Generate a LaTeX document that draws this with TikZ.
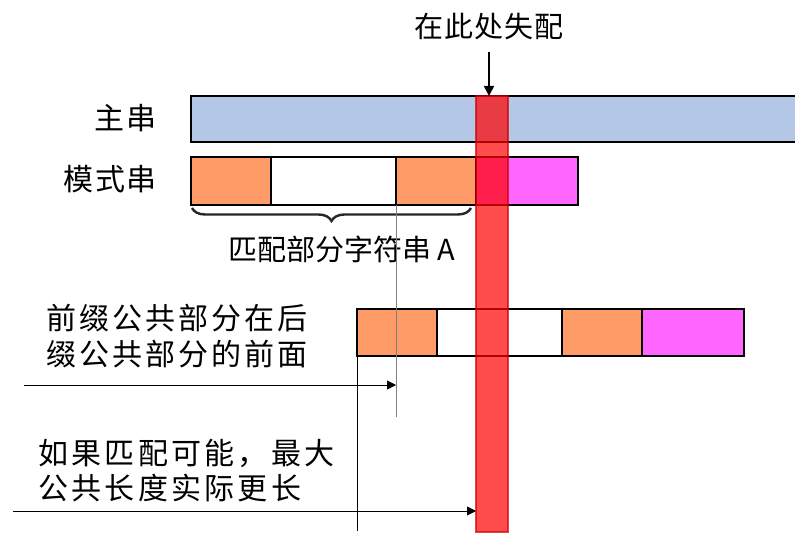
\documentclass[tikz,border=0pt]{standalone}
\usepackage{fontspec}
\setmainfont{Noto Sans CJK SC}
\usetikzlibrary{positioning,arrows.meta,decorations.pathreplacing}
\definecolor{mainblue}{RGB}{180,199,231}
\definecolor{prefixorange}{RGB}{255,155,102}
\definecolor{tailpink}{RGB}{255,102,255}
\definecolor{missred}{RGB}{255,0,0}

\begin{document}
\begin{tikzpicture}[x=1pt,y=-1pt,
    seg/.style={draw,line width=1.5pt,inner sep=0pt,outer sep=0pt,minimum height=47pt,anchor=north west},
    lbl/.style={inner sep=0pt,font=\fontsize{30}{35}\selectfont},
    spaced/.style 2 args={font=\fontsize{#1}{35.5}\selectfont\addfontfeature{LetterSpace=#2}},
    thinarrow/.style={-{Triangle[length=9pt,width=9pt]},line width=0.8pt}]
    \clip (0,0) rectangle (795,545);

    % main string
    \node[seg,fill=mainblue,minimum width=640pt,minimum height=46pt] (T) at (191,96) {};
    \node[lbl,spaced={30}{8},anchor=base east] (Tlbl) at (157,130) {主串};

    % pattern string
    \node[seg,fill=prefixorange,minimum width=80pt,minimum height=48pt] (P1) at (191,157) {};
    \node[seg,fill=white,minimum width=125pt,minimum height=48pt,right=0pt of P1] (P2) {};
    \node[seg,fill=prefixorange,minimum width=80pt,minimum height=48pt,right=0pt of P2] (P3) {};
    \node[seg,fill=tailpink,minimum width=102pt,minimum height=48pt,right=0pt of P3] (P4) {};
    \node[lbl,spaced={30}{5},anchor=base east] (Plbl) at (157,191) {模式串};

    \draw[decorate,decoration={brace,mirror,amplitude=13pt},line width=2.4pt,black!85]
        (192,208) -- (471,208);
    \node[lbl,spaced={29}{0},anchor=base] (match) at (342,261) {匹配部分字符串 A};

    % shifted pattern
    \node[seg,fill=prefixorange,minimum width=80pt] (S1) at (357,309) {};
    \node[seg,fill=white,minimum width=125pt,right=0pt of S1] (S2) {};
    \node[seg,fill=prefixorange,minimum width=80pt,right=0pt of S2] (S3) {};
    \node[seg,fill=tailpink,minimum width=102pt,right=0pt of S3] (S4) {};

    \node[lbl,spaced={30}{10},anchor=north west,align=left] (note1) at (46,304) {前缀公共部分在后\\缀公共部分的前面};
    \node[lbl,spaced={30}{11},anchor=north west,align=left] (note2) at (38,439) {如果匹配可能，最大\\公共长度实际更长};

    % guide lines
    \coordinate (g1) at (396,417);
    \coordinate (g2) at (357,531);
    \coordinate (a1) at (24,385);
    \coordinate (a2) at (13,511);
    \draw[gray,line width=0.8pt] (P3.south west) -- (g1);
    \draw[line width=0.8pt] (S1.south west) -- (g2);

    % mismatch column
    \node[inner sep=0pt,outer sep=0pt,anchor=north west,minimum width=32pt,minimum height=436pt,
        fill=missred,fill opacity=0.7,draw=missred!80!black,draw opacity=0.7,line width=1.2pt] (col) at (476,96) {};

    \draw[thinarrow] (a1) -- (a1 -| g1);
    \draw[thinarrow] (a2) -- (a2 -| col.west);

    \node[lbl,spaced={29}{4},inner ysep=11pt,anchor=base] (mismatch) at (489,38) {在此处失配};
    \draw[-{Triangle[length=10pt,width=10pt]},line width=1.8pt] (mismatch) -- (mismatch |- col.north);

\end{tikzpicture}
\end{document}
